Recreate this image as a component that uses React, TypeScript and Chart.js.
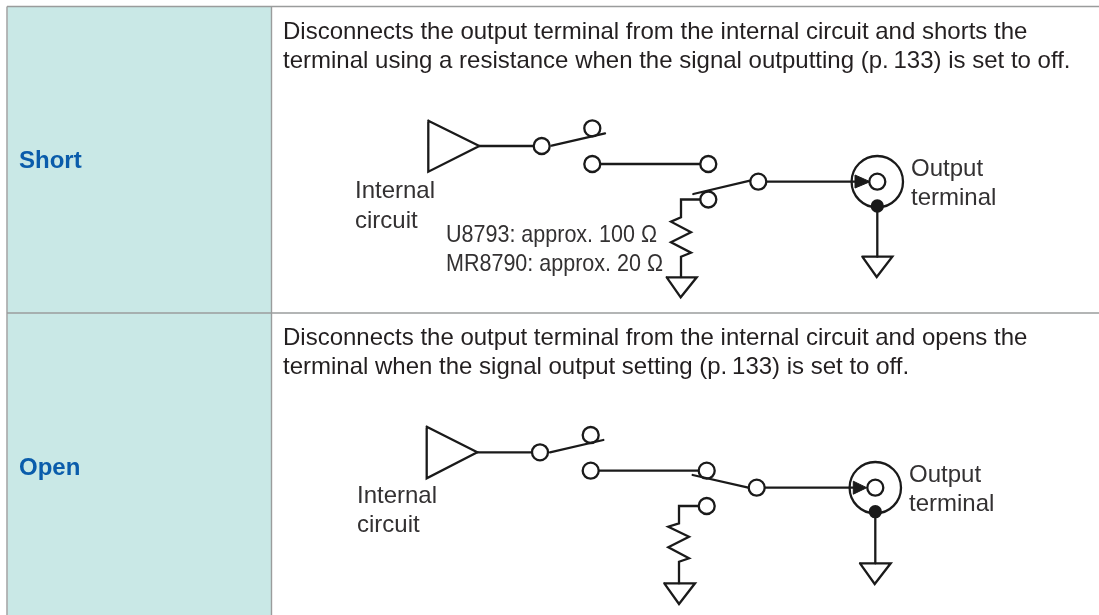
import React, { useEffect, useRef } from "react";
import { Chart, registerables } from "chart.js";

Chart.register(...registerables);

type P = { x: number; y: number };
const pts = (...c: number[][]): P[] => c.map(([x, y]) => ({ x, y }));

// Table frame
const cellFill = pts([8, 7], [271, 7], [271, 615], [8, 615], [8, 7]);
const frameTop = pts([7, 6.5], [1099, 6.5]);
const frameLeft = pts([7, 6.5], [7, 615]);
const frameMiddle = pts([271.5, 6.5], [271.5, 615]);
const frameRow = pts([7, 313], [1099, 313]);

// Upper circuit (Short)
const shortWires = [
  pts([428.3, 120.7], [428.3, 171.7], [479.3, 146], [428.3, 120.7]),
  pts([479.3, 146], [541.7, 146]),
  pts([592.3, 164], [708.3, 164]),
  pts([708.3, 199.5], [681, 199.5], [681, 217.3], [671, 221.7], [691, 232.3], [671, 242.3], [691, 252.7], [681, 256.7], [681, 277]),
  pts([666.7, 277.3], [696.7, 277.3], [680.7, 297.3], [666.7, 277.3]),
  pts([877.3, 206], [877.3, 256.7]),
  pts([862.3, 256.7], [892.3, 256.7], [876.7, 277], [862.3, 256.7]),
];
const shortFeed = pts([758.3, 181.7], [855, 181.7]);
const shortBlades = [
  pts([551.7, 145.7], [605, 133.3]),
  pts([693.3, 194], [750, 180.7]),
];
const shortNodes = pts([541.7, 146], [592.3, 128.3], [592.3, 164], [708.3, 164], [708.3, 199.5], [758.3, 181.7], [877.3, 181.7]);
const shortJack = pts([877.3, 181.7]);
const shortArrow = pts([855, 175], [870, 181.7], [855, 188], [855, 175]);
const shortDot = pts([877.3, 206]);

// Lower circuit (Open)
const openWires = [
  pts([426.7, 426.7], [426.7, 478.3], [477.3, 452.3], [426.7, 426.7]),
  pts([477.3, 452.3], [540, 452.3]),
  pts([590.7, 470.7], [706.7, 470.7]),
  pts([706.7, 506], [679, 506], [679, 523.3], [668.3, 526.7], [689, 536.7], [668.3, 547.3], [689, 558.3], [679, 561.7], [679, 583.3]),
  pts([664.3, 583.3], [695, 583.3], [679, 604], [664.3, 583.3]),
  pts([875.3, 511.7], [875.3, 563.3]),
  pts([860, 563.3], [890.7, 563.3], [874.7, 584], [860, 563.3]),
];
const openFeed = pts([756.7, 487.7], [853.3, 487.7]);
const openBlades = [
  pts([550, 452.3], [603.3, 440]),
  pts([692.7, 475], [748.3, 487.7]),
];
const openNodes = pts([540, 452.3], [590.7, 435], [590.7, 470.7], [706.7, 470.7], [706.7, 506], [756.7, 487.7], [875.3, 487.7]);
const openJack = pts([875.3, 487.7]);
const openArrow = pts([853.3, 481.2], [866.7, 487.7], [853.3, 494.2], [853.3, 481.2]);
const openDot = pts([875.3, 511.7]);

// Texts
const rowNames = ["Short", "Open"];
const rowNameAt = pts([19, 168], [19, 475]);
const bodyLines = [
  "Disconnects the output terminal from the internal circuit and shorts the",
  "terminal using a resistance when the signal outputting (p.\u2009133) is set to off.",
  "Disconnects the output terminal from the internal circuit and opens the",
  "terminal when the signal output setting (p.\u2009133) is set to off.",
];
const bodyAt = pts([283, 39], [283, 68], [283, 345], [283, 374]);
const labels = ["Internal", "circuit", "Output", "terminal", "Internal", "circuit", "Output", "terminal"];
const labelAt = pts([355, 198], [355, 228], [911, 176], [911, 205], [357, 503], [357, 532], [909, 482], [909, 511]);
const resistorNotes = ["U8793: approx. 100 \u03A9", "MR8790: approx. 20 \u03A9"];
const resistorAt = pts([446, 242], [446, 271]);
const resistorWidths = [211, 217];

const BLACK = "#1a1a1a";

const wire = (data: P[], order = 3) => ({
  data, showLine: true, borderColor: BLACK, borderWidth: 2.3, pointRadius: 0, tension: 0, order,
  borderCapStyle: "round", borderJoinStyle: "miter", clip: false,
});
const circles = (data: P[], radius: number, fill: string, order: number) => ({
  data, showLine: false, pointRadius: radius, pointBackgroundColor: fill, pointBorderColor: BLACK, pointBorderWidth: 2.3, order, clip: false,
});
const filled = (data: P[], color: string, order: number) => ({
  data, showLine: true, fill: "shape", backgroundColor: color, borderColor: color, borderWidth: 1, pointRadius: 0, tension: 0, order, clip: false,
});
const rule = (data: P[]) => ({
  data, showLine: true, borderColor: "#9a9c9c", borderWidth: 1.4, pointRadius: 0, tension: 0, order: 8, clip: false,
});

const textPlugin = {
  id: "diagramText",
  afterDatasetsDraw(chart: any) {
    const { ctx, scales } = chart;
    const put = (s: string, p: P, font: string, color: string, max?: number) => {
      ctx.font = font;
      ctx.fillStyle = color;
      ctx.textBaseline = "alphabetic";
      ctx.textAlign = "left";
      const px = scales.x.getPixelForValue(p.x);
      const py = scales.y.getPixelForValue(p.y);
      if (max) ctx.fillText(s, px, py, max);
      else ctx.fillText(s, px, py);
    };
    const fam = '"Liberation Sans", Arial, sans-serif';
    ctx.save();
    rowNames.forEach((s, i) => put(s, rowNameAt[i], `bold 24px ${fam}`, "#0a5cab"));
    bodyLines.forEach((s, i) => put(s, bodyAt[i], `24px ${fam}`, "#231f20"));
    labels.forEach((s, i) => put(s, labelAt[i], `24px ${fam}`, "#333132"));
    resistorNotes.forEach((s, i) => put(s, resistorAt[i], `24px ${fam}`, "#333132", resistorWidths[i]));
    ctx.restore();
  },
};

export default function App() {
  const ref = useRef<HTMLCanvasElement>(null);
  useEffect(() => {
    const chart = new Chart(ref.current!, {
      type: "scatter",
      data: {
        datasets: [
          filled(cellFill, "#c9e8e6", 9),
          rule(frameTop), rule(frameLeft), rule(frameMiddle), rule(frameRow),
          ...shortWires.map((w) => wire(w)),
          ...openWires.map((w) => wire(w)),
          circles(shortJack, 25.7, "#ffffff", 4),
          circles(openJack, 25.7, "#ffffff", 4),
          wire(shortFeed, 3), wire(openFeed, 3),
          circles(shortNodes, 8, "#ffffff", 2),
          circles(openNodes, 8, "#ffffff", 2),
          ...shortBlades.map((w) => wire(w, 1)),
          ...openBlades.map((w) => wire(w, 1)),
          filled(shortArrow, BLACK, 1), filled(openArrow, BLACK, 1),
          circles(shortDot, 5.5, BLACK, 1), circles(openDot, 5.5, BLACK, 1),
        ] as any,
      },
      options: {
        responsive: false,
        animation: false,
        events: [],
        layout: { padding: 0, autoPadding: false },
        plugins: { legend: { display: false }, tooltip: { enabled: false } },
        scales: {
          x: { type: "linear", min: 0, max: 1099, display: false },
          y: { type: "linear", min: 0, max: 615, reverse: true, display: false },
        },
      },
      plugins: [textPlugin],
    });
    return () => chart.destroy();
  }, []);
  return (
    <div style={{ position: "fixed", left: 0, top: 0, width: 1099, height: 615, background: "#fff", overflow: "hidden" }}>
      <canvas ref={ref} width={1099} height={615} style={{ display: "block" }} />
    </div>
  );
}
